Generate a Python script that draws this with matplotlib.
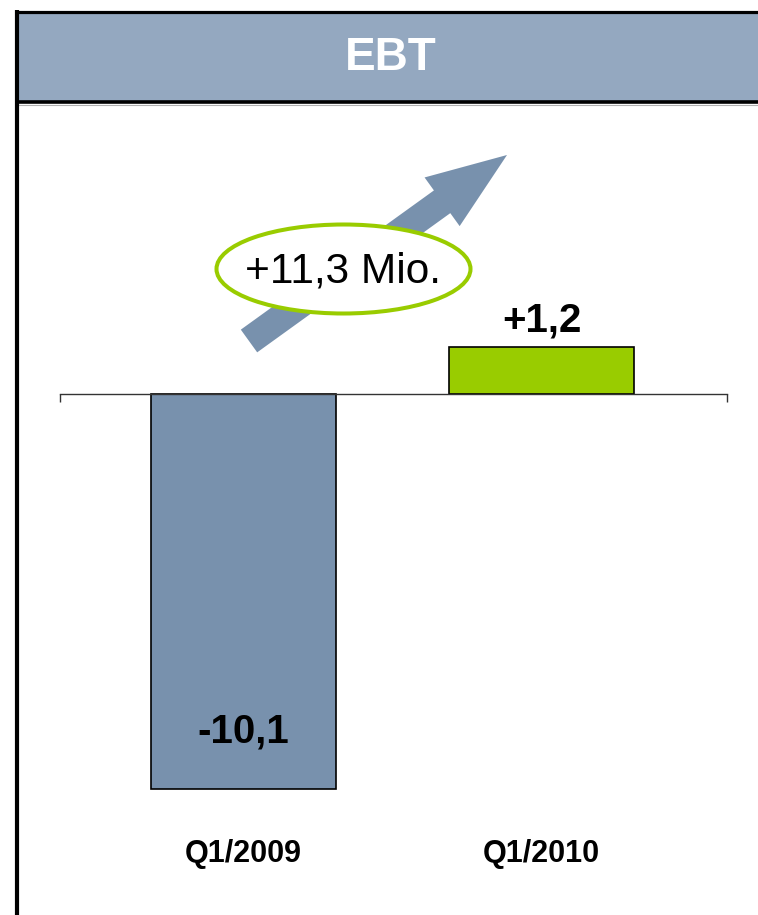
import matplotlib
matplotlib.use("Agg")
import matplotlib.pyplot as plt
from matplotlib.patches import Rectangle, Ellipse, FancyArrow

plt.rcParams['font.family'] = ['Liberation Sans', 'DejaVu Sans']

# data
categories = ["Q1/2009", "Q1/2010"]
values = [-10.1, 1.2]
bar_colors = ["#7891AD", "#99CC00"]
title = "EBT"

W, H = 758, 915
fig = plt.figure(figsize=(W / 100, H / 100), dpi=100)
fig.patch.set_facecolor("white")

# main chart axes (pixel box: x 60..727, y 110..900)
ax = fig.add_axes([60 / W, 1 - 900 / H, 667 / W, 790 / H])
ax.set_facecolor("none")
ax.set_xlim(-0.616, 1.622)
ax.set_ylim(-12.94, 7.26)

x = list(range(len(categories)))
ax.bar(x, values, width=0.62, color=bar_colors, edgecolor="black", linewidth=1.2, zorder=2)

for side in ["left", "right", "top"]:
    ax.spines[side].set_visible(False)
ax.spines["bottom"].set_position(("data", 0))
ax.spines["bottom"].set_color("#333333")
ax.spines["bottom"].set_linewidth(1.0)
ax.set_xticks([-0.616, 1.622])
ax.set_xticklabels(["", ""])
ax.tick_params(axis="x", direction="out", length=6, width=1.0, color="#333333")
ax.set_yticks([])

for xi, v in zip(x, values):
    lab = f"{v:+.1f}".replace(".", ",")
    dy = 41 if v < 0 else 19
    ax.annotate(lab, xy=(xi, v), xytext=(0, dy), textcoords="offset points",
                ha="center", va="center", fontsize=29, fontweight="bold", zorder=3)

for xi, c in zip(x, categories):
    ax.text(xi, 0.058, c, transform=ax.get_xaxis_transform(), ha="center", va="center",
            fontsize=22, fontweight="bold")

# overlay in pixel coordinates for header, frame, arrow and bubble
ov = fig.add_axes([0, 0, 1, 1])
ov.set_xlim(0, W)
ov.set_ylim(H, 0)
ov.axis("off")
ov.patch.set_alpha(0)

ov.add_patch(Rectangle((17, 12), W, 90, facecolor="#94A8C0", edgecolor="none"))
ov.plot([15, W], [11.5, 11.5], color="black", lw=2.3, solid_capstyle="butt")
ov.plot([17, W], [102, 102], color="black", lw=2.6, solid_capstyle="butt")
ov.plot([17, W], [104.5, 104.5], color="#b0b0b0", lw=0.8, solid_capstyle="butt")
ov.plot([17, 17], [10, H], color="black", lw=3.0, solid_capstyle="butt")
ov.text(391, 58, title, ha="center", va="center", color="white",
        fontsize=33, fontweight="bold")

ov.add_patch(FancyArrow(249, 341, 258, -186, width=28, head_width=60, head_length=80,
                        length_includes_head=True, color="#7891AD", lw=0))
ov.add_patch(Ellipse((343.5, 269), 254, 89, facecolor="white", edgecolor="#99CC00", lw=2.9))
diff = f"{values[1] - values[0]:+.1f}".replace(".", ",") + " Mio."
ov.text(343, 271, diff, ha="center", va="center", fontsize=30.5)

fig.savefig("out.png", dpi=100)
